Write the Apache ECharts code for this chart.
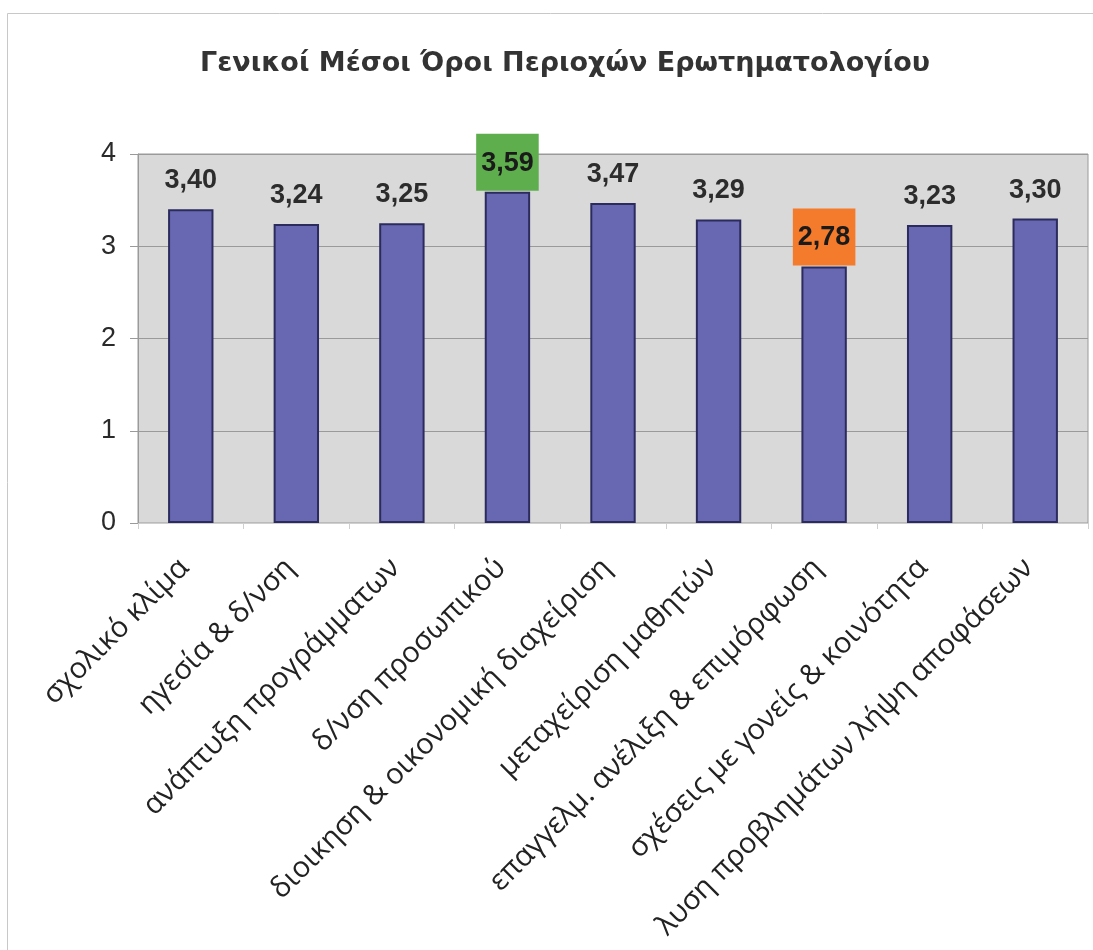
<!DOCTYPE html>
<html>
<head>
<meta charset="utf-8">
<script src="https://cdn.jsdelivr.net/npm/echarts@6/dist/echarts.min.js"></script>
<style>
  html, body { margin: 0; padding: 0; background: #ffffff; }
  #chart { width: 1093px; height: 950px; }
</style>
</head>
<body>
<div id="chart"></div>
<script>
// Survey areas and their overall mean scores
const categories = [
  'σχολικό κλίμα',
  'ηγεσία & δ/νση',
  'ανάπτυξη προγράμματων',
  'δ/νση προσωπικού',
  'διοικηση & οικονομική διαχείριση',
  'μεταχείριση μαθητών',
  'επαγγελμ. ανέλιξη & επιμόρφωση',
  'σχέσεις με γονείς & κοινότητα',
  'λυση προβλημάτων λήψη αποφάσεων'
];
const means = [3.40, 3.24, 3.25, 3.59, 3.47, 3.29, 2.78, 3.23, 3.30];
const yTicks = [0, 1, 2, 3, 4];
const titleText = 'Γενικοί Μέσοι Όροι Περιοχών Ερωτηματολογίου';

// highest and lowest means get a coloured label box
const maxIdx = means.indexOf(Math.max(...means));
const minIdx = means.indexOf(Math.min(...means));

const fmt = v => v.toFixed(2).replace('.', ',');

const baseLabel = {
  show: true,
  position: 'top',
  distance: 15,
  fontFamily: 'Liberation Sans, Arial, sans-serif',
  fontWeight: 'bold',
  fontSize: 27,
  color: '#2c2c2c',
  formatter: p => fmt(p.value)
};

const barData = means.map((v, i) => {
  const item = { value: v };
  if (i === maxIdx || i === minIdx) {
    item.label = Object.assign({}, baseLabel, {
      distance: 1,
      backgroundColor: i === maxIdx ? '#5fae4e' : '#f47a2c',
      padding: [16, 5, 14, 5],
      color: '#1a1a1a'
    });
  }
  return item;
});

const chart = echarts.init(document.getElementById('chart'), null, { renderer: 'canvas' });

chart.setOption({
  backgroundColor: '#ffffff',
  animation: false,
  title: {
    text: titleText,
    left: 560,
    top: 45,
    textAlign: 'center',
    textStyle: {
      fontFamily: 'DejaVu Sans, sans-serif',
      fontWeight: 'bold',
      fontSize: 27,
      color: '#333333'
    }
  },
  graphic: [{
    type: 'rect',
    shape: { x: 7.5, y: 13.5, width: 1100, height: 950 },
    style: { fill: 'none', stroke: '#c8c8c8', lineWidth: 1 },
    silent: true,
    z: -1
  }],
  grid: {
    left: 138,
    top: 154,
    right: 5,
    bottom: 427,
    show: true,
    backgroundColor: '#d9d9d9',
    borderColor: '#9a9a9a',
    borderWidth: 1
  },
  xAxis: {
    type: 'category',
    data: categories,
    axisLine: { show: true, lineStyle: { color: '#cfcfcf', width: 1 } },
    axisTick: { show: true, length: 6, lineStyle: { color: '#cfcfcf' } },
    axisLabel: {
      rotate: 45,
      interval: 0,
      margin: 34,
      padding: [0, 9, 0, 0],
      fontFamily: 'Open Sans, Noto Sans, sans-serif',
      fontSize: 29,
      color: '#222222'
    }
  },
  yAxis: {
    type: 'value',
    min: yTicks[0],
    max: yTicks[yTicks.length - 1],
    interval: 1,
    axisLine: { show: true, lineStyle: { color: '#9a9a9a' } },
    axisTick: { show: true, length: 8, lineStyle: { color: '#9a9a9a' } },
    splitLine: { show: true, lineStyle: { color: '#9a9a9a', width: 1 } },
    axisLabel: {
      margin: 22,
      fontFamily: 'Liberation Sans, Arial, sans-serif',
      fontSize: 27,
      color: '#2a2a2a'
    }
  },
  series: [{
    type: 'bar',
    data: barData,
    barWidth: '43%',
    itemStyle: {
      color: '#6868b2',
      borderColor: '#2b2b5e',
      borderWidth: 2
    },
    label: baseLabel
  }]
});
</script>
</body>
</html>
